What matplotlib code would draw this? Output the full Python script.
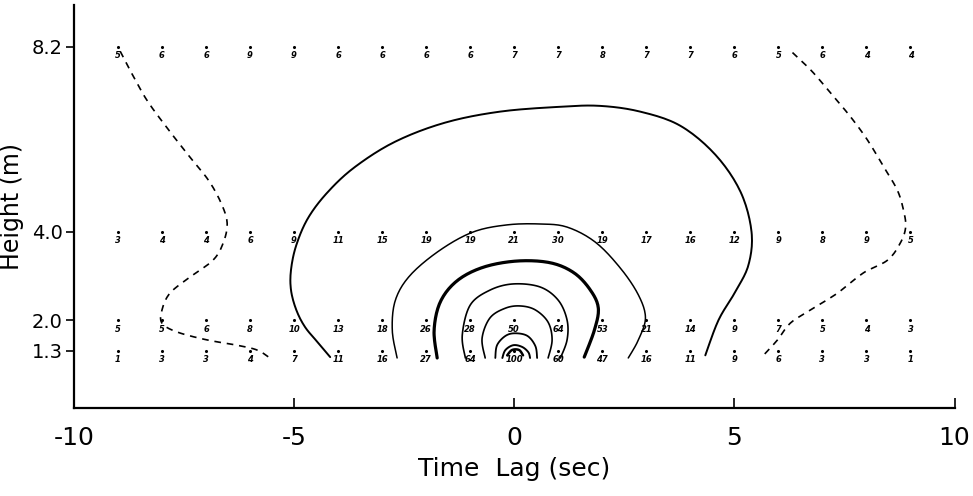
import numpy as np
import matplotlib
matplotlib.use("Agg")
import matplotlib.pyplot as plt

plt.rcParams['font.family'] = ['DejaVu Sans']

# time lags of the observation grid and the four measuring heights
lags = list(range(-9, 10))
heights = [8.2, 4.0, 2.0, 1.3]

# correlation values (x100) written beside each grid point
vals_82 = [5, 6, 6, 9, 9, 6, 6, 6, 6, 7, 7, 8, 7, 7, 6, 5, 6, 4, 4]
vals_40 = [3, 4, 4, 6, 9, 11, 15, 19, 19, 21, 30, 19, 17, 16, 12, 9, 8, 9, 5]
vals_20 = [5, 5, 6, 8, 10, 13, 18, 26, 28, 50, 64, 53, 21, 14, 9, 7, 5, 4, 3]
vals_13 = [1, 3, 3, 4, 7, 11, 16, 27, 64, 100, 60, 47, 16, 11, 9, 6, 3, 3, 1]

# hand drawn isolines (lag, height)
outer_x = [-4.18, -4.45, -4.75, -4.95, -5.07, -5.07, -4.95, -4.68, -4.23, -3.61, -2.70, -1.57,
           -0.32, 1.05, 1.95, 2.86, 3.77, 4.57, 5.14, 5.39, 5.32, 5.02, 4.64, 4.34]
outer_y = [1.16, 1.48, 1.84, 2.23, 2.68, 3.14, 3.70, 4.32, 4.91, 5.48, 6.05, 6.48,
           6.73, 6.84, 6.86, 6.73, 6.41, 5.75, 4.91, 4.00, 3.25, 2.64, 2.00, 1.20]

c2_x = [-2.66, -2.77, -2.70, -2.36, -1.68, -0.93, -0.16, 0.59, 1.20, 1.84, 2.41, 2.82, 2.98, 2.82, 2.59]
c2_y = [1.14, 1.77, 2.45, 3.02, 3.59, 4.00, 4.16, 4.18, 4.11, 3.77, 3.18, 2.57, 2.05, 1.55, 1.14]

bold_x = [-1.75, -1.82, -1.68, -1.30, -0.70, 0.07, 0.82, 1.36, 1.73, 1.91, 1.82, 1.59]
bold_y = [1.14, 1.77, 2.41, 2.89, 3.20, 3.34, 3.30, 3.07, 2.68, 2.27, 1.77, 1.16]

c4_x = [-1.11, -1.18, -1.00, -0.55, -0.02, 0.59, 1.00, 1.20, 1.20, 1.05]
c4_y = [1.14, 1.66, 2.34, 2.68, 2.82, 2.75, 2.45, 2.00, 1.55, 1.14]

c5_x = [-0.66, -0.73, -0.55, -0.20, 0.14, 0.48, 0.77, 0.86, 0.77]
c5_y = [1.14, 1.59, 2.05, 2.27, 2.32, 2.23, 1.95, 1.55, 1.14]

c6_x = [-0.43, -0.39, -0.20, 0.02, 0.30, 0.48, 0.52]
c6_y = [1.14, 1.43, 1.64, 1.70, 1.64, 1.41, 1.14]

c7_x = [-0.27, -0.20, -0.02, 0.18, 0.32, 0.36]
c7_y = [1.14, 1.32, 1.43, 1.39, 1.27, 1.14]

c8_x = [-0.16, -0.05, 0.11, 0.20]
c8_y = [1.20, 1.32, 1.32, 1.20]

# zero lines (dashed)
zl_left_x = [-8.95, -8.70, -8.35, -7.90, -7.40, -6.95, -6.66, -6.52, -6.61, -6.84,
             -7.36, -7.82, -8.00, -8.00, -7.66, -6.98, -6.30, -5.84, -5.55]
zl_left_y = [8.10, 7.62, 7.00, 6.38, 5.74, 5.18, 4.66, 4.20, 3.75, 3.36,
             2.98, 2.61, 2.23, 1.93, 1.73, 1.55, 1.43, 1.32, 1.14]
zl_right_x = [6.32, 6.73, 7.18, 7.64, 8.02, 8.39, 8.70, 8.84, 8.89, 8.77,
              8.48, 7.93, 7.34, 6.73, 6.27, 5.98, 5.66]
zl_right_y = [8.07, 7.68, 7.16, 6.61, 6.09, 5.48, 4.95, 4.50, 4.11, 3.75,
              3.36, 3.07, 2.61, 2.23, 1.93, 1.55, 1.20]


def smooth(x, y, n=12):
    p = np.column_stack([x, y])
    p = np.vstack([p[0], p, p[-1]])
    out = []
    t = np.linspace(0, 1, n, endpoint=False)[:, None]
    for i in range(1, len(p) - 2):
        p0, p1, p2, p3 = p[i - 1], p[i], p[i + 1], p[i + 2]
        seg = 0.5 * ((2 * p1) + (-p0 + p2) * t + (2 * p0 - 5 * p1 + 4 * p2 - p3) * t ** 2
                     + (-p0 + 3 * p1 - 3 * p2 + p3) * t ** 3)
        out.append(seg)
    out.append(p[-2][None, :])
    out = np.vstack(out)
    return out[:, 0], out[:, 1]


fig = plt.figure(figsize=(9.73, 4.96), dpi=100)
ax = fig.add_axes([0.076, 0.177, 0.905, 0.813])

# isolines
for cx, cy, lw in [(outer_x, outer_y, 1.4), (c2_x, c2_y, 1.1), (bold_x, bold_y, 2.3),
                   (c4_x, c4_y, 1.2), (c5_x, c5_y, 1.2), (c6_x, c6_y, 1.3),
                   (c7_x, c7_y, 1.4), (c8_x, c8_y, 1.8)]:
    sx, sy = smooth(cx, cy)
    ax.plot(sx, sy, color='black', lw=lw, solid_capstyle='round')

for cx, cy in [(zl_left_x, zl_left_y), (zl_right_x, zl_right_y)]:
    sx, sy = smooth(cx, cy)
    ax.plot(sx, sy, color='black', lw=1.2, linestyle=(0, (4, 3.5)))

# grid points and their values
for h, row in zip(heights, [vals_82, vals_40, vals_20, vals_13]):
    ax.scatter(lags, [h] * len(lags), s=1.5, color='black', zorder=3)
    for lag, v in zip(lags, row):
        ax.annotate(str(v), (lag, h), xytext=(0, -6.5), textcoords='offset points',
                    ha='center', va='center', fontsize=6, style='italic',
                    fontweight='bold', color='black')

ax.set_xlim(-10, 10)
ax.set_ylim(0, 9.15)
ax.set_xticks([-10, -5, 0, 5, 10])
ax.set_xticklabels(['-10', '-5', '0', '5', '10'])
ax.set_yticks(heights)
ax.set_yticklabels(['8.2', '4.0', '2.0', '1.3'])

ax.spines['top'].set_visible(False)
ax.spines['right'].set_visible(False)
ax.spines['left'].set_linewidth(1.6)
ax.spines['bottom'].set_linewidth(1.6)
ax.tick_params(axis='x', direction='in', length=7, width=1.2, labelsize=18, pad=13)
ax.tick_params(axis='y', direction='out', length=6, width=1.2, labelsize=14, pad=2)

ax.set_xlabel('Time  Lag (sec)', fontsize=18, labelpad=5)
ax.set_ylabel('Height (m)', fontsize=17, labelpad=6)

fig.savefig('out.png', dpi=100)
